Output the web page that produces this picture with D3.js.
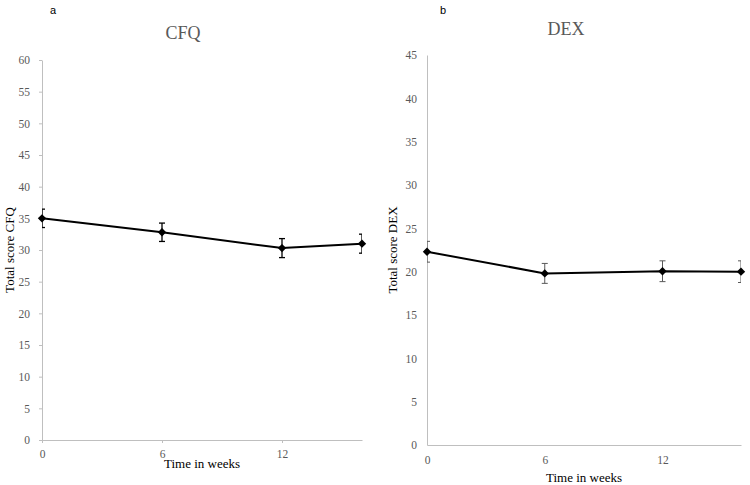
<!DOCTYPE html>
<html>
<head>
<meta charset="utf-8">
<script src="https://cdn.jsdelivr.net/npm/d3@7"></script>
<style>
  html, body { margin: 0; padding: 0; background: #fff; }
  svg { display: block; }
  .serif { font-family: "Liberation Serif", "Times New Roman", "DejaVu Serif", serif; }
  .sans { font-family: "Liberation Sans", Arial, sans-serif; }
</style>
</head>
<body>
<svg id="chart" width="750" height="485"></svg>
<script>
// ---- Data ----
const weeks = [0, 6, 12, 16];
const xTickValues = [0, 6, 12];

const cfqMean = [35.0, 32.8, 30.3, 31.0];
const cfqErr = [1.45, 1.45, 1.5, 1.5];
const cfqTicks = [0, 5, 10, 15, 20, 25, 30, 35, 40, 45, 50, 55, 60];

const dexMean = [22.3, 19.8, 20.05, 20.0];
const dexErr = [1.2, 1.15, 1.2, 1.25];
const dexTicks = [0, 5, 10, 15, 20, 25, 30, 35, 40, 45];

const svg = d3.select("#chart");
const serif = "Liberation Serif, Times New Roman, DejaVu Serif, serif";

function panel(cfg) {
  const g = svg.append("g");
  const x = d3.scaleLinear().domain([0, 16]).range([cfg.x0, cfg.x1]);
  const y = d3.scaleLinear().domain([0, cfg.yMax]).range([cfg.y0, cfg.y1]);

  const clipId = "clip-" + cfg.id;
  svg.append("defs").append("clipPath").attr("id", clipId)
    .append("rect").attr("x", cfg.x0).attr("y", 0)
    .attr("width", cfg.x1 - cfg.x0).attr("height", 485);

  // y axis
  const ya = g.append("g").attr("transform", `translate(${cfg.x0},0)`)
    .call(d3.axisLeft(y).tickValues(cfg.yTicks).tickSize(cfg.yTickSize)
      .tickSizeOuter(0).tickPadding(cfg.yPad));
  ya.attr("font-family", serif).attr("font-size", 11.5);
  ya.select(".domain").attr("stroke", "#bfbfbf").attr("stroke-width", 1);
  ya.selectAll(".tick line").attr("stroke", "#bfbfbf");
  ya.selectAll(".tick text").attr("fill", "#595959").attr("class", "serif");

  // x axis
  const xa = g.append("g").attr("transform", `translate(0,${cfg.y0})`)
    .call(d3.axisBottom(x).tickValues(xTickValues).tickSize(cfg.xTickSize)
      .tickSizeOuter(0).tickPadding(cfg.xPad));
  xa.attr("font-family", serif).attr("font-size", 11.5);
  xa.select(".domain").attr("stroke", "#bfbfbf").attr("stroke-width", 1);
  xa.selectAll(".tick line").attr("stroke", "#bfbfbf");
  xa.selectAll(".tick text").attr("fill", "#595959").attr("class", "serif");

  const pts = weeks.map((w, i) => ({ w, m: cfg.mean[i], e: cfg.err[i] }));

  // error bars
  const eb = g.append("g").attr("clip-path", `url(#${clipId})`)
    .attr("stroke", cfg.errColor).attr("stroke-width", cfg.errWidth).attr("fill", "none");
  pts.forEach(p => {
    const cx = x(p.w), yt = y(p.m + p.e), yb = y(p.m - p.e);
    eb.append("line").attr("x1", cx).attr("x2", cx).attr("y1", yt).attr("y2", yb);
    eb.append("line").attr("x1", cx - 3).attr("x2", cx + 3).attr("y1", yt).attr("y2", yt);
    eb.append("line").attr("x1", cx - 3).attr("x2", cx + 3).attr("y1", yb).attr("y2", yb);
  });

  // line
  g.append("path").datum(pts)
    .attr("fill", "none").attr("stroke", "#000").attr("stroke-width", 2)
    .attr("d", d3.line().x(d => x(d.w)).y(d => y(d.m)));

  // markers
  g.selectAll(".mk").data(pts).enter().append("path")
    .attr("transform", d => `translate(${x(d.w)},${y(d.m)})`)
    .attr("d", d3.symbol().type(d3.symbolDiamond2).size(45))
    .attr("fill", "#000");

  // title
  g.append("text").attr("class", "serif").attr("x", cfg.titleX).attr("y", cfg.titleY)
    .attr("text-anchor", "middle").attr("fill", "#595959")
    .attr("font-size", 18).text(cfg.title);

  // panel letter
  g.append("text").attr("class", "sans").attr("x", cfg.letterX).attr("y", 14)
    .attr("text-anchor", "middle").attr("fill", "#000")
    .attr("font-size", 11).text(cfg.letter);

  // x label
  g.append("text").attr("class", "serif").attr("x", (cfg.x0 + cfg.x1) / 2).attr("y", cfg.xLabelY)
    .attr("text-anchor", "middle").attr("fill", "#000")
    .attr("font-size", 13).text("Time in weeks");

  // y label
  g.append("text").attr("class", "serif")
    .attr("transform", `translate(${cfg.yLabelX},${(cfg.y0 + cfg.y1) / 2}) rotate(-90)`)
    .attr("text-anchor", "middle").attr("fill", "#000")
    .attr("font-size", 13).text(cfg.yLabel);
}

panel({
  id: "a", x0: 42, x1: 362, y0: 440, y1: 60, yMax: 60, yTicks: cfqTicks,
  yTickSize: 3, yPad: 9, xTickSize: 3, xPad: 7,
  mean: cfqMean, err: cfqErr, errColor: "#000", errWidth: 1.3,
  title: "CFQ", titleX: 183, titleY: 39, letter: "a", letterX: 53,
  xLabelY: 468, yLabel: "Total score CFQ", yLabelX: 14
});

panel({
  id: "b", x0: 427, x1: 741, y0: 445, y1: 55, yMax: 45, yTicks: dexTicks,
  yTickSize: 0, yPad: 10, xTickSize: 0, xPad: 11,
  mean: dexMean, err: dexErr, errColor: "#595959", errWidth: 1,
  title: "DEX", titleX: 566, titleY: 35, letter: "b", letterX: 443,
  xLabelY: 482, yLabel: "Total score DEX", yLabelX: 397
});
</script>
</body>
</html>
